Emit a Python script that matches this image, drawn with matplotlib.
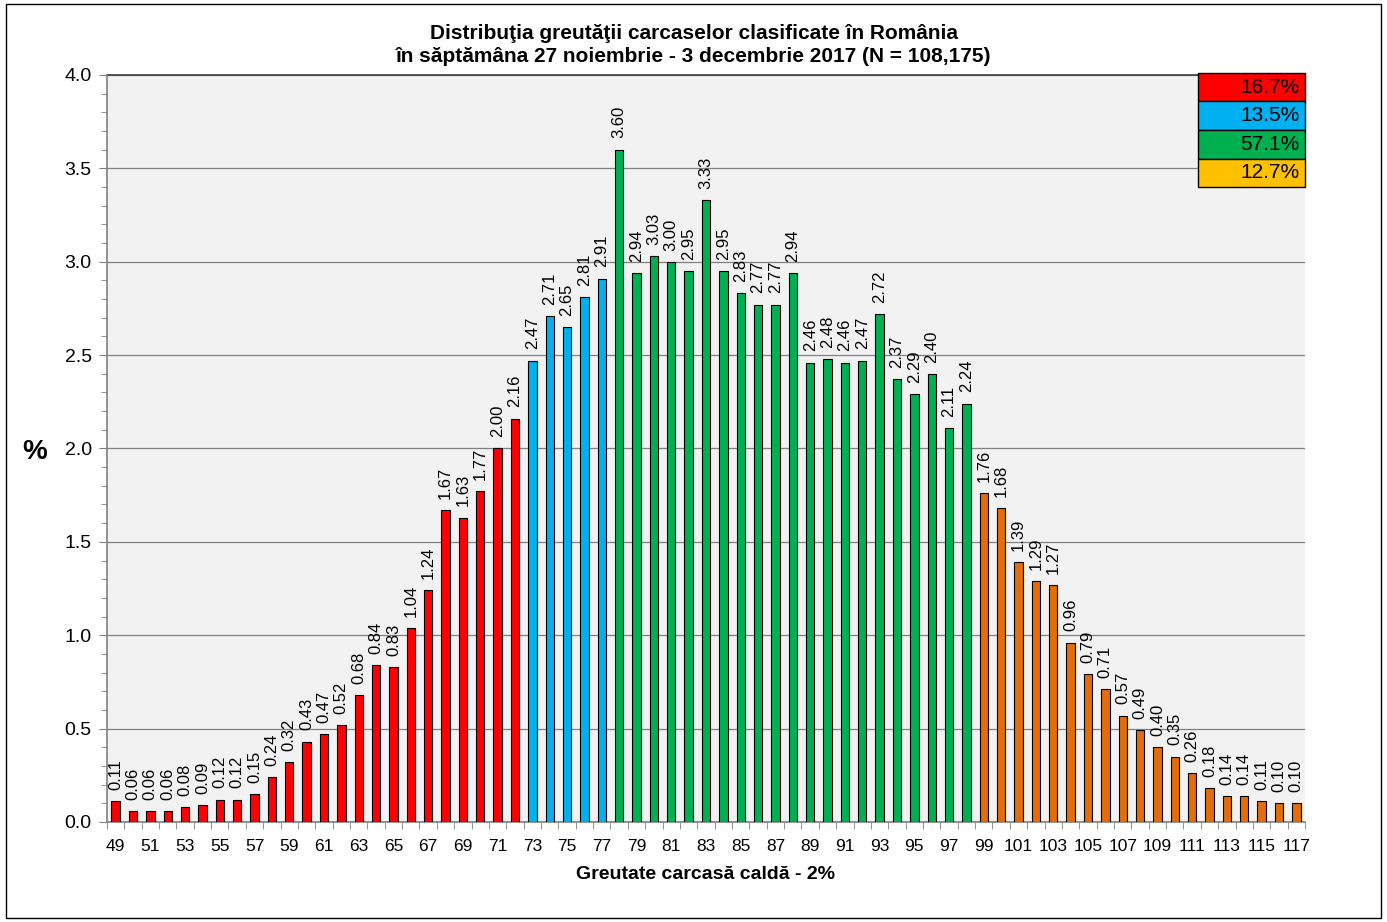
import matplotlib
matplotlib.use("Agg")
import matplotlib.pyplot as plt
from matplotlib.patches import Rectangle
from matplotlib.ticker import MultipleLocator, FixedLocator

plt.rcParams['font.family'] = ['Liberation Sans', 'DejaVu Sans']

weights = list(range(49, 118))
values = [0.11, 0.06, 0.06, 0.06, 0.08, 0.09, 0.12, 0.12, 0.15, 0.24,
          0.32, 0.43, 0.47, 0.52, 0.68, 0.84, 0.83, 1.04, 1.24, 1.67,
          1.63, 1.77, 2.00, 2.16,
          2.47, 2.71, 2.65, 2.81, 2.91,
          3.60, 2.94, 3.03, 3.00, 2.95, 3.33, 2.95, 2.83, 2.77, 2.77,
          2.94, 2.46, 2.48, 2.46, 2.47, 2.72, 2.37, 2.29, 2.40, 2.11, 2.24,
          1.76, 1.68, 1.39, 1.29, 1.27, 0.96, 0.79, 0.71, 0.57, 0.49,
          0.40, 0.35, 0.26, 0.18, 0.14, 0.14, 0.11, 0.10, 0.10]
group_counts = [24, 5, 21, 19]
group_colors = ['#ff0000', '#00b0f0', '#00b050', '#e46c0a']
legend_labels = ['16.7%', '13.5%', '57.1%', '12.7%']
legend_colors = ['#ff0000', '#00b0f0', '#00b050', '#ffc000']

title = ("Distribuţia greutăţii carcaselor clasificate în România\n"
         "în săptămâna 27 noiembrie - 3 decembrie 2017 (N = 108,175)")
xlabel = "Greutate carcasă caldă - 2%"

bar_colors = []
for c, n in zip(group_colors, group_counts):
    bar_colors += [c] * n

fig = plt.figure(figsize=(13.87, 9.22), dpi=100)
fig.patches.append(Rectangle((0.004, 0.004), 0.992, 0.992, transform=fig.transFigure,
                             fill=False, edgecolor='black', linewidth=1.0))
ax = fig.add_axes([0.0771, 0.1085, 0.8638, 0.8102])
ax.set_facecolor('#f2f2f2')

x = list(range(len(weights)))
ax.bar(x, values, width=0.48, color=bar_colors, edgecolor='black', linewidth=0.8, zorder=3)
for xi, v in zip(x, values):
    ax.text(xi, v + 0.06, f"{v:.2f}", rotation=90, ha='center', va='bottom',
            fontsize=12, color='black', zorder=4)

ax.set_xlim(-0.5, len(weights) - 0.5)
ax.set_ylim(0, 4.0)
ax.yaxis.set_major_locator(MultipleLocator(0.5))
ax.yaxis.set_minor_locator(MultipleLocator(0.1))
ax.set_yticklabels([f"{t:.1f}" for t in ax.get_yticks()])
ax.grid(axis='y', which='major', color='#808080', linewidth=0.9, zorder=1)

ax.xaxis.set_major_locator(FixedLocator([i for i in x if i % 2 == 0]))
ax.set_xticklabels([str(weights[i]) for i in x if i % 2 == 0])
ax.xaxis.set_minor_locator(FixedLocator([i - 0.5 for i in range(len(weights) + 1)]))
ax.tick_params(axis='x', which='major', length=0, pad=12, labelsize=12.5)
ax.tick_params(axis='x', which='minor', length=5, color='#808080', direction='out')
ax.tick_params(axis='y', which='major', length=6, color='#808080', direction='out', labelsize=14, pad=5)
ax.tick_params(axis='y', which='minor', length=4, color='#808080', direction='out')
ax.set_axisbelow(True)

for side in ['top', 'right']:
    ax.spines[side].set_visible(False)
ax.spines['left'].set_color('#808080')
ax.spines['bottom'].set_color('#808080')
ax.spines['left'].set_linewidth(1.2)
ax.spines['bottom'].set_linewidth(1.2)
ax.plot([-0.5, len(weights) - 0.5], [4.0, 4.0], color='#404040', linewidth=1.2,
        clip_on=False, zorder=2)

fig.text(0.5, 0.951, title, ha='center', va='center', fontsize=15, fontweight='bold',
         linespacing=1.3)
ax.set_xlabel(xlabel, fontsize=14, fontweight='bold', labelpad=9)
fig.text(0.025, 0.51, '%', fontsize=20, fontweight='bold', ha='center', va='center')

# percentage boxes
box_left = 1198 / 1387
box_w = (1305 - 1198) / 1387
box_h = 28.5 / 922
top = 1 - 73 / 922
for i, (lab, col) in enumerate(zip(legend_labels, legend_colors)):
    y0 = top - (i + 1) * box_h
    fig.patches.append(Rectangle((box_left, y0), box_w, box_h, transform=fig.transFigure,
                                 facecolor=col, edgecolor='black', linewidth=1.0, zorder=5))
    fig.text(box_left + box_w - 0.004, y0 + box_h / 2, lab, ha='right', va='center',
             fontsize=15, zorder=6)

fig.savefig('out.png', dpi=100)
